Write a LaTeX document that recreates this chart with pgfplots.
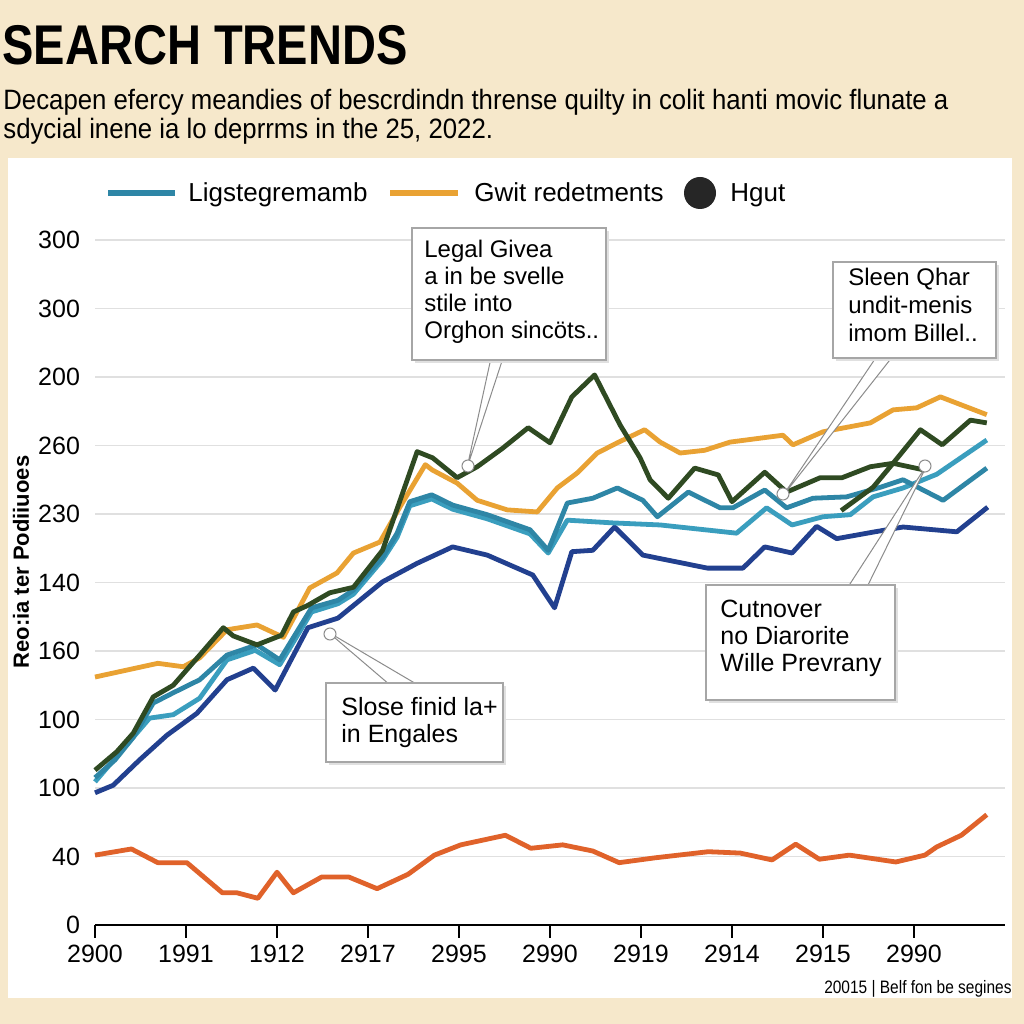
\documentclass[border=0pt]{standalone}
\usepackage{pgfplots}
\pgfplotsset{compat=1.18}
\usepackage{pgfplotstable}
\usepackage{fontspec}
\setmainfont{Liberation Sans}
\newfontfamily\condfont{Liberation Sans}[FakeStretch=0.92]
\newfontfamily\footfont{Liberation Sans}[FakeStretch=0.86]
\newfontfamily\titlefont{Liberation Sans Bold}[FakeStretch=0.84]

\definecolor{bgbeige}{HTML}{F6E8CB}
\definecolor{cgold}{HTML}{E9A233}
\definecolor{cgreen}{HTML}{2F4A22}
\definecolor{cteal}{HTML}{2E86A6}
\definecolor{cteal2}{HTML}{3A9EBE}
\definecolor{cnavy}{HTML}{22408F}
\definecolor{cred}{HTML}{E0622A}

% x in tick steps (2900 = 0), y in grid steps (bottom line = 0)
\pgfplotstableread{
x y
0.00 3.62
0.69 3.82
0.97 3.77
1.15 3.90
1.45 4.31
1.78 4.38
2.07 4.20
2.36 4.92
2.66 5.14
2.84 5.43
3.13 5.59
3.35 6.10
3.63 6.72
3.71 6.64
3.98 6.45
4.20 6.20
4.53 6.06
4.86 6.03
5.08 6.38
5.30 6.60
5.52 6.89
5.74 7.04
6.04 7.23
6.21 7.05
6.43 6.89
6.70 6.93
6.98 7.05
7.56 7.15
7.67 7.01
8.00 7.20
8.52 7.33
8.77 7.52
9.03 7.55
9.29 7.71
9.80 7.45
}\gold

\pgfplotstableread{
x y
0.00 2.26
0.24 2.53
0.42 2.80
0.64 3.33
0.86 3.50
1.15 3.94
1.41 4.34
1.52 4.22
1.78 4.09
2.05 4.23
2.18 4.57
2.33 4.66
2.58 4.85
2.84 4.93
3.16 5.47
3.54 6.91
3.71 6.82
3.98 6.53
4.20 6.69
4.48 6.96
4.76 7.26
5.00 7.04
5.24 7.71
5.49 8.03
5.77 7.30
5.99 6.82
6.10 6.50
6.30 6.23
6.59 6.67
6.85 6.57
7.00 6.18
7.36 6.61
7.60 6.32
7.97 6.53
8.21 6.53
8.52 6.69
8.77 6.74
9.12 6.64
}\green

\pgfplotstableread{
x y
8.20 6.05
8.55 6.39
8.77 6.74
9.07 7.23
9.31 7.01
9.62 7.37
9.80 7.33
}\greenb

\pgfplotstableread{
x y
0.00 2.15
0.22 2.41
0.42 2.74
0.64 3.24
0.86 3.39
1.15 3.58
1.45 3.94
1.78 4.09
2.03 3.87
2.38 4.63
2.67 4.74
2.84 4.89
3.16 5.37
3.32 5.72
3.46 6.18
3.70 6.28
3.93 6.13
4.31 5.99
4.78 5.77
4.98 5.47
5.19 6.16
5.47 6.23
5.74 6.38
6.02 6.20
6.18 5.96
6.52 6.32
6.87 6.09
7.01 6.09
7.36 6.35
7.60 6.09
7.89 6.23
8.26 6.25
8.63 6.39
8.88 6.50
9.32 6.20
9.80 6.67
}\teal

\pgfplotstableread{
x y
0.00 2.09
0.60 3.02
0.86 3.07
1.15 3.31
1.45 3.87
1.76 4.01
2.03 3.80
2.38 4.57
2.67 4.69
2.84 4.83
3.16 5.33
3.32 5.66
3.46 6.12
3.70 6.22
3.93 6.07
4.31 5.93
4.78 5.71
4.98 5.43
5.19 5.91
5.69 5.87
6.21 5.84
7.05 5.72
7.38 6.09
7.66 5.84
8.00 5.96
8.30 5.99
8.55 6.25
8.88 6.38
9.25 6.58
9.80 7.08
}\tealb

\pgfplotstableread{
x y
0.00 1.93
0.20 2.04
0.49 2.41
0.79 2.77
1.12 3.09
1.45 3.58
1.74 3.75
1.98 3.43
2.34 4.34
2.67 4.48
3.16 5.01
3.54 5.28
3.93 5.52
4.31 5.40
4.81 5.11
5.05 4.63
5.24 5.45
5.47 5.47
5.71 5.81
6.02 5.40
6.73 5.21
7.12 5.21
7.36 5.52
7.66 5.43
7.93 5.82
8.15 5.64
8.57 5.74
8.88 5.81
9.47 5.74
9.81 6.10
}\navy

\pgfplotstableread{
x y
0.00 1.02
0.40 1.11
0.69 0.91
1.01 0.91
1.40 0.47
1.56 0.47
1.79 0.39
2.00 0.77
2.18 0.47
2.49 0.70
2.79 0.70
3.10 0.53
3.44 0.74
3.73 1.02
4.02 1.17
4.51 1.31
4.79 1.12
5.14 1.17
5.47 1.08
5.76 0.91
6.15 0.98
6.74 1.07
7.09 1.05
7.44 0.95
7.70 1.18
7.96 0.96
8.29 1.02
8.80 0.92
9.12 1.02
9.25 1.14
9.52 1.31
9.80 1.61
}\redline

\begin{document}
\begin{tikzpicture}
% page and panel, in pixel units of the 1024 x 1024 reference
\begin{scope}[yshift=512pt, x=0.5pt, y=-0.5pt]
  \fill[bgbeige] (0,0) rectangle (1024,1024);
  \fill[white] (8,158) rectangle (1012,998);
  \node[anchor=base west, inner sep=0] at (2,65)
    {\titlefont\fontsize{28}{30}\selectfont SEARCH TRENDS};
  \node[anchor=base west, inner sep=0] at (3,110)
    {\condfont\fontsize{14}{16}\selectfont Decapen efercy meandies of bescrdindn thrense quilty in colit hanti movic flunate a};
  \node[anchor=base west, inner sep=0] at (3,139)
    {\condfont\fontsize{14}{16}\selectfont sdycial inene ia lo deprrms in the 25, 2022.};
\end{scope}

\begin{axis}[
  at={(47.5pt,49.5pt)}, anchor=south west,
  scale only axis, width=455pt, height=342.5pt,
  xmin=0, xmax=10, ymin=0, ymax=10,
  axis x line*=bottom, axis y line*=left,
  x axis line style={black, line width=1.1pt, -},
  y axis line style={draw=none},
  xtick={0,...,9},
  xticklabels={2900,1991,1912,2917,2995,2990,2919,2914,2915,2990},
  ytick={0,...,10},
  yticklabels={0,40,100,100,160,140,230,260,200,300,300},
  ymajorgrids, grid style={black!12, line width=0.7pt},
  tick label style={font=\fontsize{12.5}{14}\selectfont},
  xtick style={black, line width=1pt}, major tick length=6.5pt,
  tick align=outside, ytick style={draw=none},
  yticklabel style={xshift=2.5pt},
  clip=false,
  every axis plot/.append style={line width=2.4pt, line join=round, no markers},
]
\addplot[cred] table {\redline};
\addplot[cnavy] table {\navy};
\addplot[cteal2] table {\tealb};
\addplot[cteal] table {\teal};
\addplot[cgold] table {\gold};
\addplot[cgreen] table {\green};
\addplot[cgreen] table {\greenb};
\end{axis}

\begin{scope}[yshift=512pt, x=0.5pt, y=-0.5pt]
  % legend
  \draw[cteal, line width=2.6pt] (108,193) -- (175,193);
  \node[anchor=base west, inner sep=0] at (188,202) {\fontsize{13}{15}\selectfont Ligstegremamb};
  \draw[cgold, line width=2.6pt] (390,193) -- (458,193);
  \node[anchor=base west, inner sep=0] at (474,202) {\fontsize{13}{15}\selectfont Gwit redetments};
  \fill[black!85] (700,193) circle (16);
  \node[anchor=base west, inner sep=0] at (730,202) {\fontsize{13}{15}\selectfont Hgut};
  % y label
  \node[rotate=90, inner sep=0] at (21,562) {\bfseries\fontsize{11}{13}\selectfont Reo:ia ter Podiiuoes};
  % callout pointers
  \tikzset{ptr/.style={fill=white, draw=black!45, line width=0.5pt}}
  \draw[ptr] (491,358) -- (467,468) -- (503,358);
  \fill[ptr] (468,466) circle (6);
  \draw[ptr] (877,356) -- (782,497) -- (893,356);
  \fill[ptr] (783,494) circle (6);
  \draw[ptr] (848,587) -- (928,463) -- (867,587);
  \fill[ptr] (925,466) circle (6);
  \draw[ptr] (390,685) -- (328,632) -- (418,685);
  \fill[ptr] (330,634) circle (6);
  % callout boxes
  \tikzset{box/.style={fill=white, draw=black!35, line width=0.6pt}}
  \fill[black!12] (415,231) rectangle (609,363);
  \draw[box] (412,228) rectangle (606,360);
  \node[anchor=north west, align=left, inner sep=0, font=\fontsize{12}{13.5}\selectfont] at (424,240)
    {Legal Givea\\a in be svelle\\stile into\\Orghon sincöts..};
  \fill[black!12] (836,265) rectangle (999,361);
  \draw[box] (833,262) rectangle (996,358);
  \node[anchor=north west, align=left, inner sep=0, font=\fontsize{12}{14}\selectfont] at (848,268)
    {Sleen Qhar\\undit-menis\\imom Billel..};
  \fill[black!12] (709,588) rectangle (898,703);
  \draw[box] (706,585) rectangle (895,700);
  \node[anchor=north west, align=left, inner sep=0, font=\fontsize{12.5}{13.5}\selectfont] at (720,600)
    {Cutnover\\no Diarorite\\Wille Prevrany};
  \fill[black!12] (329,686) rectangle (506,765);
  \draw[box] (326,683) rectangle (503,762);
  \node[anchor=north west, align=left, inner sep=0, font=\fontsize{12.5}{13.5}\selectfont] at (341,697)
    {Slose finid la+\\in Engales};
  % footer
  \node[anchor=base east, inner sep=0] at (1012,993)
    {\footfont\fontsize{9}{11}\selectfont 20015 | Belf fon be segines};
\end{scope}
\end{tikzpicture}
\end{document}
